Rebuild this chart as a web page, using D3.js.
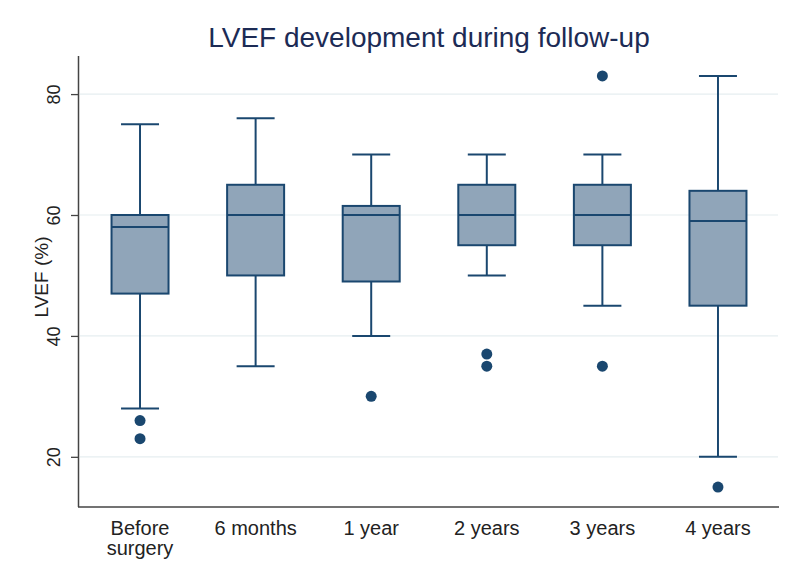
<!DOCTYPE html>
<html>
<head>
<meta charset="utf-8">
<script src="https://cdn.jsdelivr.net/npm/d3@7"></script>
<style>
  html,body{margin:0;padding:0;background:#fff;}
  svg text{font-family:"Liberation Sans",Arial,sans-serif;}
</style>
</head>
<body>
<div id="chart"></div>
<script>
// categories and box-plot statistics (LVEF %)
const categories = [["Before","surgery"],["6 months"],["1 year"],["2 years"],["3 years"],["4 years"]];
const whiskerLow  = [28, 35, 40, 50, 45, 20];
const q1          = [47, 50, 49, 55, 55, 45];
const median      = [58, 60, 60, 60, 60, 59];
const q3          = [60, 65, 61.5, 65, 65, 64];
const whiskerHigh = [75, 76, 70, 70, 70, 83];
const outliers    = [[26, 23], [], [30], [37, 35], [83, 35], [15]];
const yTicks = [20, 40, 60, 80];

const W=800, H=581;
const m={left:79, right:21, top:56, bottom:74};
const navy='#1a476f';

const svg=d3.select('#chart').append('svg').attr('width',W).attr('height',H);

const x=d3.scalePoint().domain(d3.range(categories.length)).range([m.left,W-m.right]).padding(0.528);
const y=d3.scaleLinear().domain([11.7,86.3]).range([H-m.bottom,m.top]);

// grid
svg.append('g').selectAll('line').data(yTicks).join('line')
  .attr('x1',m.left+1).attr('x2',W-m.right-1)
  .attr('y1',d=>y(d)).attr('y2',d=>y(d))
  .attr('stroke','#e6eef0').attr('stroke-width',1.2);

// title
svg.append('text').attr('x',(m.left+W-m.right)/2).attr('y',47)
  .attr('text-anchor','middle').attr('font-size',28).attr('fill','#1c2b55')
  .text('LVEF development during follow-up');

// axes
const yAxis=svg.append('g').attr('transform',`translate(${m.left},0)`)
  .call(d3.axisLeft(y).tickValues(yTicks).tickSize(8));
yAxis.select('.domain').attr('stroke','#444').attr('stroke-width',1.5).attr('d',`M-0.5,${m.top}V${H-m.bottom}`);
yAxis.selectAll('.tick line').attr('stroke','#444').attr('stroke-width',1.3);
yAxis.selectAll('.tick text').attr('font-size',18).attr('fill','#222')
  .attr('transform','rotate(-90)').attr('x',0).attr('y',-19).attr('dy',0)
  .attr('text-anchor','middle');

svg.append('line').attr('x1',m.left-1).attr('x2',W-m.right)
  .attr('y1',H-m.bottom).attr('y2',H-m.bottom).attr('stroke','#444').attr('stroke-width',1.5);

// axis title
svg.append('text').attr('transform','translate(48,277) rotate(-90)')
  .attr('text-anchor','middle').attr('font-size',19).attr('fill','#222').text('LVEF (%)');

// x labels
const xl=svg.append('g').selectAll('text').data(categories).join('text')
  .attr('x',(d,i)=>x(i)).attr('y',535).attr('text-anchor','middle')
  .attr('font-size',20).attr('fill','#222');
xl.selectAll('tspan').data(d=>d).join('tspan')
  .attr('x',function(){return this.parentNode.getAttribute('x');})
  .attr('dy',(d,i)=>i?20:0).text(d=>d);

// boxes
const boxW=57, capW=38;
const g=svg.append('g').selectAll('g').data(categories.map((c,i)=>i)).join('g');
g.append('line').attr('x1',i=>x(i)).attr('x2',i=>x(i))
  .attr('y1',i=>y(whiskerHigh[i])).attr('y2',i=>y(q3[i]))
  .attr('stroke',navy).attr('stroke-width',2);
g.append('line').attr('x1',i=>x(i)).attr('x2',i=>x(i))
  .attr('y1',i=>y(q1[i])).attr('y2',i=>y(whiskerLow[i]))
  .attr('stroke',navy).attr('stroke-width',2);
g.append('line').attr('x1',i=>x(i)-capW/2).attr('x2',i=>x(i)+capW/2)
  .attr('y1',i=>y(whiskerHigh[i])).attr('y2',i=>y(whiskerHigh[i]))
  .attr('stroke',navy).attr('stroke-width',2);
g.append('line').attr('x1',i=>x(i)-capW/2).attr('x2',i=>x(i)+capW/2)
  .attr('y1',i=>y(whiskerLow[i])).attr('y2',i=>y(whiskerLow[i]))
  .attr('stroke',navy).attr('stroke-width',2);
g.append('rect').attr('x',i=>x(i)-boxW/2).attr('width',boxW)
  .attr('y',i=>y(q3[i])).attr('height',i=>y(q1[i])-y(q3[i]))
  .attr('fill','#90a5b9').attr('stroke',navy).attr('stroke-width',2);
g.append('line').attr('x1',i=>x(i)-boxW/2).attr('x2',i=>x(i)+boxW/2)
  .attr('y1',i=>y(median[i])).attr('y2',i=>y(median[i]))
  .attr('stroke',navy).attr('stroke-width',2);
g.selectAll('circle').data(i=>outliers[i].map(v=>({i,v}))).join('circle')
  .attr('cx',d=>x(d.i)).attr('cy',d=>y(d.v)).attr('r',5.5).attr('fill',navy);
</script>
</body>
</html>
